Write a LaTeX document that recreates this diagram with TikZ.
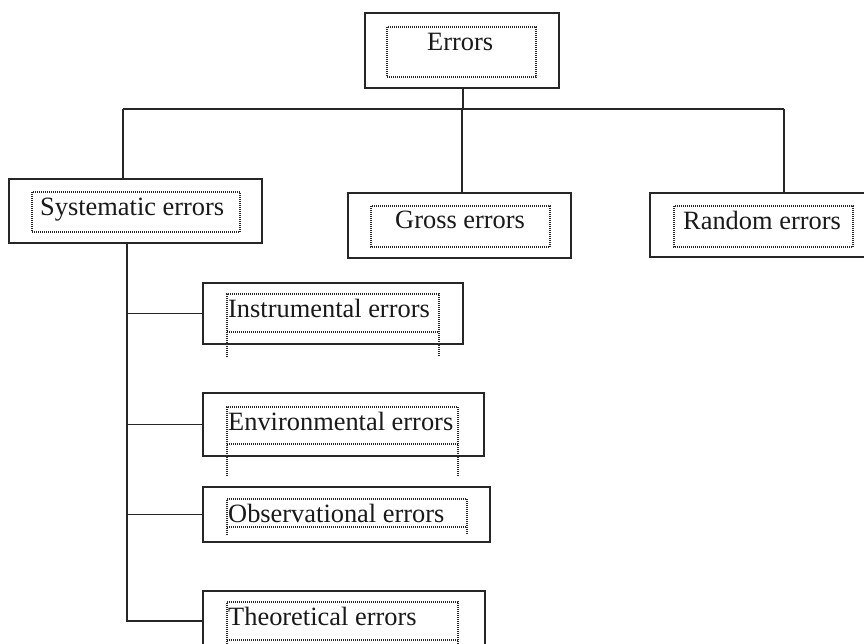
\documentclass[tikz,border=0pt]{standalone}
\usepackage{fontspec}
\setmainfont{Liberation Serif}
\begin{document}
\begin{tikzpicture}[x=1pt,y=-1pt,
  box/.style={draw=black!85, line width=1.2pt, rectangle, inner sep=0pt},
  inner/.style={draw=black!85, line width=1.1pt, dash pattern=on 1pt off 1pt},
  lbl/.style={anchor=base west, inner sep=0pt, font=\fontsize{26.4}{30}\selectfont, text=black!90},
  conn/.style={draw=black!85, line width=1.2pt}]
\useasboundingbox (0,0) rectangle (864,643);
\clip (0,0) rectangle (864,643);
% outer boxes
\node[box, minimum width=194pt, minimum height=75pt] (errors) at (462,50.5) {};
\node[box, minimum width=253pt, minimum height=64pt] (sys) at (135.5,211) {};
\node[box, minimum width=223pt, minimum height=65pt] (gross) at (459.5,225.5) {};
\node[box, minimum width=230pt, minimum height=64pt] (random) at (765,225) {};
\node[box, minimum width=260pt, minimum height=61pt] (instr) at (333,313.5) {};
\node[box, minimum width=281pt, minimum height=63pt] (env) at (343.5,424.5) {};
\node[box, minimum width=287pt, minimum height=55pt] (obs) at (346.5,514.5) {};
\node[box, minimum width=282pt, minimum height=60pt] (theo) at (344,621) {};
% inner dotted frames
\draw[inner] (387,27) rectangle (536,77);
\draw[inner] (32,192) rectangle (240,232);
\draw[inner] (371,206) rectangle (550,247);
\draw[inner] (674,206) rectangle (853,247);
\draw[inner] (227,357) -- (227,294) -- (439,294) -- (439,357) (227,332) -- (439,332);
\draw[inner] (227,476) -- (227,407) -- (458,407) -- (458,476) (227,444) -- (458,444);
\draw[inner] (227,535) -- (227,499) -- (467,499) -- (467,535) (227,527) -- (467,527);
\draw[inner] (227,650) -- (227,602) -- (458,602) -- (458,650) (227,640) -- (458,640);
% labels
\node[lbl] (terrors) at (427,50) {Errors};
\node[lbl] (tsys) at (40,215) {Systematic errors};
\node[lbl] (tgross) at (395,228) {Gross errors};
\node[lbl] (trandom) at (683,229) {Random errors};
\node[lbl] (tinstr) at (228,317) {Instrumental errors};
\node[lbl] (tenv) at (228,430) {Environmental errors};
\node[lbl] (tobs) at (228,522) {Observational errors};
\node[lbl] (ttheo) at (228,625) {Theoretical errors};
% connectors
\coordinate (hub) at (463,109);
\coordinate (L) at (123,109);
\coordinate (R) at (784,109);
\coordinate (T) at (127,243);
\draw[conn] (errors.south -| hub) -- (hub);
\draw[conn] (L) -- (R);
\draw[conn] (L) -- (L |- sys.north);
\draw[conn] (gross.north -| 462,0) -- (462,109);
\draw[conn] (R) -- (R |- random.north);
\draw[conn] (T) |- (theo.west);
\draw[conn] (T |- instr.west) -- (instr.west);
\draw[conn] (T |- env.west) -- (env.west);
\draw[conn] (T |- obs.west) -- (obs.west);
\end{tikzpicture}
\end{document}
